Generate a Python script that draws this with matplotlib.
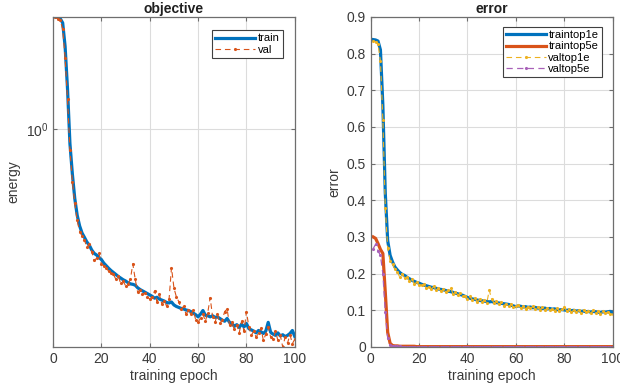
import matplotlib
matplotlib.use("Agg")
import matplotlib.pyplot as plt
from matplotlib.ticker import FixedLocator, NullLocator

plt.rcParams["font.family"] = ["Liberation Sans", "DejaVu Sans"]
plt.rcParams["mathtext.fontset"] = "custom"
plt.rcParams["mathtext.rm"] = "Liberation Sans"

# ---- data (epochs 1..100) --------------------------------------------------
epochs = list(range(1, 101))

train_energy = [
    2.30, 2.29, 2.27, 2.20, 1.85, 1.35, 0.90, 0.72, 0.60, 0.53,
    0.49, 0.465, 0.45, 0.435, 0.425, 0.41, 0.40, 0.395, 0.388, 0.382,
    0.372, 0.365, 0.358, 0.352, 0.347, 0.342, 0.337, 0.333, 0.329, 0.326,
    0.322, 0.319, 0.318, 0.316, 0.310, 0.306, 0.303, 0.300, 0.297, 0.294,
    0.291, 0.287, 0.289, 0.285, 0.283, 0.281, 0.278, 0.277, 0.279, 0.273,
    0.270, 0.268, 0.266, 0.265, 0.263, 0.262, 0.260, 0.257, 0.254, 0.250,
    0.255, 0.262, 0.253, 0.252, 0.250, 0.252, 0.249, 0.250, 0.247, 0.244,
    0.242, 0.247, 0.240, 0.238, 0.233, 0.236, 0.231, 0.237, 0.232, 0.238,
    0.229, 0.227, 0.225, 0.222, 0.226, 0.224, 0.221, 0.225, 0.240, 0.223,
    0.220, 0.218, 0.222, 0.217, 0.219, 0.216, 0.218, 0.221, 0.226, 0.216,
]
val_energy = [
    2.29, 2.27, 2.24, 2.10, 1.70, 1.25, 0.86, 0.68, 0.58, 0.51,
    0.47, 0.455, 0.44, 0.42, 0.43, 0.405, 0.38, 0.385, 0.40, 0.37,
    0.365, 0.36, 0.35, 0.345, 0.342, 0.33, 0.338, 0.32, 0.325, 0.315,
    0.318, 0.33, 0.37, 0.33, 0.30, 0.305, 0.295, 0.298, 0.29, 0.285,
    0.29, 0.303, 0.28, 0.295, 0.275, 0.282, 0.27, 0.285, 0.36, 0.31,
    0.29, 0.28, 0.265, 0.27, 0.255, 0.262, 0.255, 0.262, 0.245, 0.24,
    0.248, 0.255, 0.242, 0.258, 0.288, 0.25, 0.24, 0.255, 0.238, 0.245,
    0.26, 0.265, 0.235, 0.24, 0.228, 0.235, 0.222, 0.242, 0.225, 0.26,
    0.232, 0.218, 0.225, 0.215, 0.222, 0.23, 0.21, 0.22, 0.232, 0.215,
    0.212, 0.225, 0.21, 0.218, 0.20, 0.215, 0.206, 0.219, 0.205, 0.212,
]

train_top1 = [
    0.838, 0.837, 0.834, 0.810, 0.660, 0.420, 0.290, 0.250, 0.232, 0.218,
    0.210, 0.203, 0.198, 0.195, 0.190, 0.186, 0.182, 0.179, 0.176, 0.174,
    0.171, 0.169, 0.167, 0.165, 0.163, 0.162, 0.160, 0.158, 0.157, 0.156,
    0.154, 0.152, 0.151, 0.149, 0.147, 0.145, 0.143, 0.141, 0.138, 0.135,
    0.133, 0.131, 0.130, 0.128, 0.127, 0.126, 0.125, 0.124, 0.123, 0.124,
    0.122, 0.121, 0.120, 0.119, 0.118, 0.117, 0.116, 0.114, 0.112, 0.110,
    0.112, 0.111, 0.109, 0.110, 0.108, 0.109, 0.107, 0.108, 0.106, 0.106,
    0.105, 0.106, 0.104, 0.105, 0.103, 0.104, 0.102, 0.101, 0.102, 0.101,
    0.100, 0.101, 0.099, 0.100, 0.098, 0.099, 0.097, 0.098, 0.096, 0.097,
    0.095, 0.097, 0.096, 0.095, 0.094, 0.096, 0.095, 0.096, 0.097, 0.094,
]
train_top5 = [
    0.300, 0.296, 0.282, 0.266, 0.255, 0.150, 0.040, 0.010, 0.004, 0.003,
    0.003, 0.002, 0.002, 0.002, 0.002, 0.002, 0.002, 0.002, 0.001, 0.001,
    0.001, 0.001, 0.001, 0.001, 0.001, 0.001, 0.001, 0.001, 0.001, 0.001,
    0.001, 0.001, 0.001, 0.001, 0.001, 0.001, 0.001, 0.001, 0.001, 0.001,
    0.001, 0.001, 0.001, 0.001, 0.001, 0.001, 0.001, 0.001, 0.001, 0.001,
    0.001, 0.001, 0.001, 0.001, 0.001, 0.001, 0.001, 0.001, 0.001, 0.001,
    0.001, 0.001, 0.001, 0.001, 0.001, 0.001, 0.001, 0.001, 0.001, 0.001,
    0.001, 0.001, 0.001, 0.001, 0.001, 0.001, 0.001, 0.001, 0.001, 0.001,
    0.001, 0.001, 0.001, 0.001, 0.001, 0.001, 0.001, 0.001, 0.001, 0.001,
    0.001, 0.001, 0.001, 0.001, 0.001, 0.001, 0.001, 0.001, 0.001, 0.001,
]
val_top1 = [
    0.835, 0.832, 0.825, 0.780, 0.620, 0.380, 0.270, 0.235, 0.225, 0.212,
    0.205, 0.190, 0.200, 0.188, 0.192, 0.180, 0.185, 0.172, 0.178, 0.170,
    0.168, 0.172, 0.160, 0.164, 0.158, 0.165, 0.155, 0.160, 0.152, 0.157,
    0.150, 0.155, 0.162, 0.145, 0.150, 0.142, 0.146, 0.138, 0.140, 0.132,
    0.138, 0.128, 0.133, 0.124, 0.130, 0.122, 0.128, 0.120, 0.155, 0.130,
    0.120, 0.125, 0.116, 0.122, 0.113, 0.118, 0.112, 0.117, 0.108, 0.111,
    0.114, 0.106, 0.112, 0.104, 0.110, 0.105, 0.111, 0.103, 0.108, 0.102,
    0.109, 0.100, 0.106, 0.101, 0.104, 0.099, 0.107, 0.097, 0.103, 0.110,
    0.098, 0.103, 0.095, 0.101, 0.096, 0.100, 0.093, 0.102, 0.095, 0.099,
    0.092, 0.100, 0.094, 0.097, 0.091, 0.098, 0.093, 0.095, 0.090, 0.089,
]
val_top5 = [
    0.268, 0.280, 0.262, 0.250, 0.200, 0.095, 0.025, 0.006, 0.003, 0.002,
    0.002, 0.002, 0.001, 0.001, 0.001, 0.001, 0.001, 0.001, 0.001, 0.001,
    0.001, 0.001, 0.001, 0.001, 0.001, 0.001, 0.001, 0.001, 0.001, 0.001,
    0.001, 0.001, 0.001, 0.001, 0.001, 0.001, 0.001, 0.001, 0.001, 0.001,
    0.001, 0.001, 0.001, 0.001, 0.001, 0.001, 0.001, 0.001, 0.001, 0.001,
    0.001, 0.001, 0.001, 0.001, 0.001, 0.001, 0.001, 0.001, 0.001, 0.001,
    0.001, 0.001, 0.001, 0.001, 0.001, 0.001, 0.001, 0.001, 0.001, 0.001,
    0.001, 0.001, 0.001, 0.001, 0.001, 0.001, 0.001, 0.001, 0.001, 0.001,
    0.001, 0.001, 0.001, 0.001, 0.001, 0.001, 0.001, 0.001, 0.001, 0.001,
    0.001, 0.001, 0.001, 0.001, 0.001, 0.001, 0.001, 0.001, 0.001, 0.001,
]

# MATLAB default colour order
c_blue = "#0072BD"
c_red = "#D95319"
c_yellow = "#EDB120"
c_purple = "#A860B8"
axis_col = "#6E6E6E"
text_col = "#3A3A3A"
val_dash = (0, (5, 3.5))


def style_axes(ax):
    for sp in ax.spines.values():
        sp.set_color(axis_col)
        sp.set_linewidth(0.9)
    ax.tick_params(direction="in", which="both", top=True, right=True,
                   colors=axis_col, labelcolor=text_col, labelsize=10,
                   length=3)
    ax.grid(True, color="#DCDCDC", linewidth=0.8)
    ax.set_axisbelow(True)
    ax.set_xlim(0, 100)
    ax.set_xticks([0, 20, 40, 60, 80, 100])
    ax.set_xlabel("training epoch", fontsize=10, color=text_col, labelpad=2)


def add_legend(ax, anchor):
    leg = ax.legend(loc="upper right", fontsize=8, handlelength=3.6,
                    fancybox=False, framealpha=1, borderpad=0.3,
                    labelspacing=0.12, handletextpad=0.2,
                    borderaxespad=0, bbox_to_anchor=anchor)
    leg.get_frame().set_edgecolor("#404040")
    leg.get_frame().set_linewidth(0.8)
    return leg


fig = plt.figure(figsize=(6.2, 3.83), dpi=100)
ax1 = fig.add_axes([0.0855, 0.094, 0.390, 0.862])
ax2 = fig.add_axes([0.598, 0.094, 0.390, 0.862])

# ---- left panel: objective ------------------------------------------------
ax1.plot(epochs, train_energy, color=c_blue, linewidth=2.3, label="train")
ax1.plot(epochs, val_energy, color=c_red, linewidth=0.8, linestyle=val_dash,
         marker=".", markersize=2.5, label="val")
ax1.set_yscale("log")
ax1.set_ylim(0.2, 2.3)
ax1.yaxis.set_major_locator(FixedLocator([1.0]))
ax1.yaxis.set_minor_locator(NullLocator())
ax1.set_yticklabels([r"$10^0$"])
style_axes(ax1)
ax1.set_ylabel("energy", fontsize=10, color=text_col, labelpad=4)
ax1.set_title("objective", fontsize=10, fontweight="bold", color="#202020",
              pad=3)
add_legend(ax1, (0.95, 0.96))

# ---- right panel: error ---------------------------------------------------
ax2.plot(epochs, train_top1, color=c_blue, linewidth=2.3, label="traintop1e")
ax2.plot(epochs, train_top5, color=c_red, linewidth=2.3, label="traintop5e")
ax2.plot(epochs, val_top1, color=c_yellow, linewidth=0.8, linestyle=val_dash,
         marker=".", markersize=2.5, label="valtop1e")
ax2.plot(epochs, val_top5, color=c_purple, linewidth=0.9, linestyle=val_dash,
         marker=".", markersize=2.5, label="valtop5e")
ax2.set_ylim(0, 0.9)
ax2.set_yticks([0, 0.1, 0.2, 0.3, 0.4, 0.5, 0.6, 0.7, 0.8, 0.9])
ax2.set_yticklabels(["0", "0.1", "0.2", "0.3", "0.4", "0.5", "0.6", "0.7",
                     "0.8", "0.9"])
style_axes(ax2)
ax2.set_ylabel("error", fontsize=10, color=text_col, labelpad=4)
ax2.set_title("error", fontsize=10, fontweight="bold", color="#202020",
              pad=3)
add_legend(ax2, (0.955, 0.97))

fig.savefig("out.png", dpi=100)
